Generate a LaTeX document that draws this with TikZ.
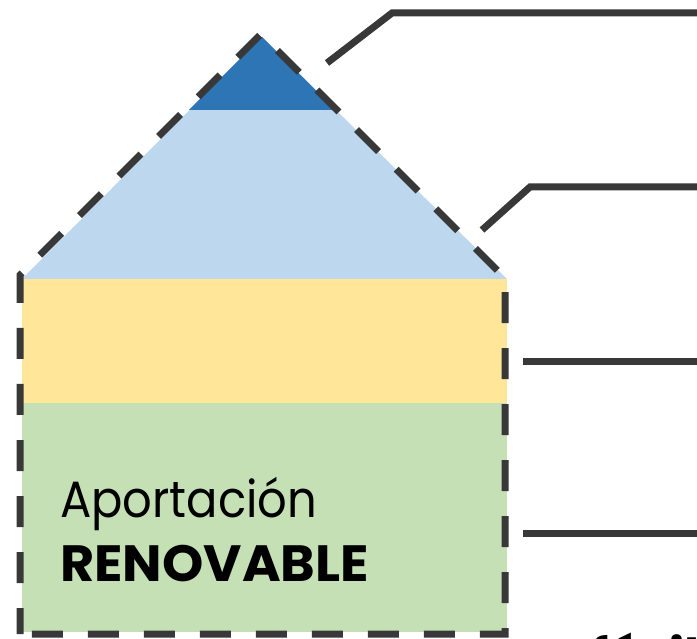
\documentclass[tikz,border=0pt]{standalone}
\usepackage{fontspec}
\setmainfont{Poppins}
\newfontfamily\fina{Poppins}[FakeStretch=0.91]
\newfontfamily\gruesa{Poppins}[FakeStretch=1.03]
\usetikzlibrary{positioning}
\definecolor{techo}{HTML}{2E75B6}
\definecolor{cielo}{HTML}{BDD7EE}
\definecolor{arena}{HTML}{FFE699}
\definecolor{hierba}{HTML}{C5E0B4}
\definecolor{trazo}{HTML}{383838}
\tikzset{
  contorno/.style={draw=trazo, line width=7pt, dash pattern=on 31pt off 25pt, dash phase=5pt},
  enlace/.style={draw=trazo, line width=7pt},
  rotulo/.style={anchor=base west, inner sep=0pt, font=\fontsize{51}{60}\selectfont},
}

\begin{document}
\begin{tikzpicture}[x=1pt,y=-1pt]
        \useasboundingbox (0,0) rectangle (697,639);

        % bandas de la casa
        \fill[hierba] (22,403) rectangle (507,632);
        \fill[arena] (22,279) rectangle (507,403);
        \fill[cielo] (22,279) -- (262,37) -- (507,279) -- cycle;
        \fill[techo] (189,110) -- (262,37) -- (336,110) -- cycle;

        % contorno discontinuo
        \draw[contorno] (20,634) -- (20,275) -- (261,34) -- (505,278) -- (505,634) -- cycle;

        % lineas de referencia
        \foreach \n/\x/\y in {a/327/63, b/482/230, c/523/362, d/523/533} {
            \coordinate (ini\n) at (\x,\y);
        }
        \coordinate (coda) at (392,13);
        \coordinate (codb) at (530,187);
        \foreach \n/\y in {a/13, b/187, c/362, d/533} {
            \coordinate (fin\n) at (697,\y);
        }
        \draw[enlace] (inia) -- (coda) -- (fina);
        \draw[enlace] (inib) -- (codb) -- (finb);
        \draw[enlace] (inic) -- (finc);
        \draw[enlace] (inid) -- (find);

        % textos
        \node[rotulo, font=\fontsize{51}{60}\fina] (aporta) at (60,517) {Aportación};
        \node[rotulo, font=\fontsize{51}{60}\gruesa\bfseries] (renova) at (60,581) {RENOVABLE};
        \node[rotulo, font=\fontsize{51}{60}\selectfont\bfseries] (fosil) at (590,675) {fósil};
\end{tikzpicture}
\end{document}
